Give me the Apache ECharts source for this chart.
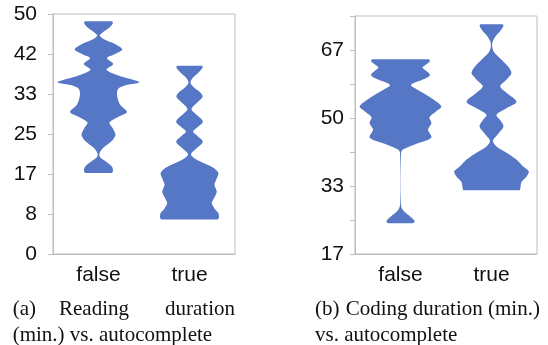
<!DOCTYPE html>
<html>
<head>
<meta charset="utf-8">
<script src="https://cdn.jsdelivr.net/npm/echarts@6/dist/echarts.min.js"></script>
<style>
  html, body { margin: 0; padding: 0; background: #fff; }
  #chart { width: 548px; height: 345px; }
</style>
</head>
<body>
<div id="chart"></div>
<script>
// Categories: whether autocomplete was enabled
const categories = ['false', 'true'];

// (a) Reading duration in minutes: outline profile of each violin
// (duration value, relative density at that value)
const readingFalseMinutes = [48.5, 48.0, 47.2, 46.3, 45.5, 44.8, 43.8, 42.6, 41.6, 40.8, 39.6, 38.4, 37.2, 35.8, 35.2, 34.5, 33.5, 32.2, 31.0, 29.6, 28.6, 27.4, 26.3, 24.8, 23.5, 22.2, 21.0, 20.2, 19.3, 18.2, 17.3, 16.9];
const readingFalseDensity = [13.5, 14.3, 11, 5, 1.2, 5, 16, 23.8, 16, 8.5, 14.7, 8, 20, 41, 28, 20, 18.5, 19.5, 22, 28.5, 20, 11, 14, 17, 13, 5, 1, 1.5, 7, 13.5, 14.5, 13];
const readingTrueMinutes = [39.2, 38.8, 37.8, 36.6, 35.7, 34.8, 33.8, 32.8, 31.6, 30.2, 29.2, 27.6, 26.4, 25.5, 24.6, 23.4, 22.2, 20.8, 19.8, 18.6, 17.8, 16.8, 15.6, 14.4, 13.0, 11.8, 10.6, 9.5, 8.5, 7.6, 7.2];
const readingTrueDensity = [12.5, 13, 9, 3, 1, 4, 10, 13.2, 8, 2, 6, 13.3, 8, 3.5, 8, 13.3, 8, 1.5, 6, 18, 25, 29, 27, 25, 27.3, 25, 22.3, 25, 29, 29.5, 28];

// (b) Coding duration in minutes
const codingFalseMinutes = [64.4, 64.0, 63.2, 62.4, 61.5, 60.5, 59.5, 58.1, 56.8, 55.0, 52.8, 51.5, 50.2, 48.7, 47.1, 45.3, 44.4, 43.4, 42.2, 41.3, 29.0, 27.6, 26.2, 25.0, 24.5, 24.2];
const codingFalseDensity = [28, 29.5, 26, 22, 26, 29.5, 23, 10.5, 18, 30, 41, 35, 29, 31, 27.5, 31, 25, 13, 2, 0.5, 0.4, 2, 8, 13.5, 14, 12];
const codingTrueMinutes = [73.0, 72.6, 71.4, 70.0, 68.6, 67.3, 66.0, 64.3, 62.5, 61.0, 59.4, 57.8, 56.2, 54.0, 52.4, 50.8, 49.4, 47.9, 46.2, 44.4, 43.0, 41.5, 39.8, 38.3, 36.8, 35.6, 34.3, 33.0, 32.3];
const codingTrueDensity = [11, 12, 9, 4, 1, 0.8, 3, 10, 17, 20, 15, 8.7, 15, 25, 15, 5, 9, 12, 7, 1.5, 5, 15, 25, 31, 37.5, 35, 30, 29, 28];

// Axis ticks (minutes)
const readingTicks = { min: 0, max: 50, step: 25 / 3 };
const codingTicks = { min: 50 / 3, max: 75, step: 25 / 3 };

const violinColor = '#5677c5';
const frameColor = '#bdbdbd';

const readingProfiles = [
  { minutes: readingFalseMinutes, density: readingFalseDensity },
  { minutes: readingTrueMinutes, density: readingTrueDensity }
];
const codingProfiles = [
  { minutes: codingFalseMinutes, density: codingFalseDensity },
  { minutes: codingTrueMinutes, density: codingTrueDensity }
];

function maxOf(profiles, key) {
  return Math.max.apply(null, profiles.map(p => Math.max.apply(null, p[key])));
}

// Builds a mirrored outline for each category from its density profile
function violinRenderer(profiles) {
  const peak = maxOf(profiles, 'density');
  return function (params, api) {
    const cat = params.dataIndex;
    const prof = profiles[cat];
    const y0 = prof.minutes[0];
    const band = api.coord([1, y0])[0] - api.coord([0, y0])[0];
    const scale = band * 0.45 / peak;
    const right = [], left = [];
    let minX = Infinity, minY = Infinity, maxX = -Infinity, maxY = -Infinity;
    for (let i = 0; i < prof.minutes.length; i++) {
      const p = api.coord([cat, prof.minutes[i]]);
      const w = prof.density[i] * scale;
      right.push([p[0] + w, p[1]]);
      left.push([p[0] - w, p[1]]);
      minX = Math.min(minX, p[0] - w); maxX = Math.max(maxX, p[0] + w);
      minY = Math.min(minY, p[1]); maxY = Math.max(maxY, p[1]);
    }
    return {
      type: 'polygon',
      shape: {
        points: right.concat(left.reverse()),
        smooth: 0.3,
        smoothConstraint: [[minX, minY], [maxX, maxY]]
      },
      style: { fill: violinColor }
    };
  };
}

function violinData(profiles) {
  return profiles.map((p, i) => [i, Math.max.apply(null, p.minutes)]);
}

const axisFont = { fontFamily: 'Liberation Sans', fontSize: 21, color: '#111' };

function valueAxis(gridIndex, ticks, margin, everyOther) {
  return {
    type: 'value',
    gridIndex: gridIndex,
    min: ticks.min,
    max: ticks.max,
    interval: ticks.step,
    axisLine: { show: true, lineStyle: { color: frameColor } },
    axisTick: { show: true, length: 5, lineStyle: { color: frameColor } },
    splitLine: { show: false },
    axisLabel: Object.assign({
      margin: margin,
      showMaxLabel: true,
      showMinLabel: true,
      formatter: function (v) {
        const k = Math.round(v / ticks.step);
        if (everyOther && k % 2 !== 0) return '';
        return String(Math.round(v));
      }
    }, axisFont)
  };
}

function categoryAxis(gridIndex) {
  return {
    type: 'category',
    gridIndex: gridIndex,
    data: categories,
    axisLine: { show: true, lineStyle: { color: frameColor } },
    axisTick: { show: false },
    axisLabel: Object.assign({ margin: 11 }, axisFont)
  };
}

const captionFont = 'Liberation Serif';
function caption(text, x, y, align) {
  return {
    type: 'text',
    x: x,
    y: y,
    style: {
      text: text,
      fontFamily: captionFont,
      fontSize: 21,
      fill: '#111',
      align: align || 'left',
      verticalAlign: 'middle'
    }
  };
}

const chart = echarts.init(document.getElementById('chart'), null, { renderer: 'canvas' });
chart.setOption({
  animation: false,
  backgroundColor: '#fff',
  grid: [
    { left: 53, right: 313, top: 14, bottom: 91, show: true, borderColor: frameColor, borderWidth: 1 },
    { left: 355, right: 11, top: 16, bottom: 91, show: true, borderColor: frameColor, borderWidth: 1 }
  ],
  xAxis: [categoryAxis(0), categoryAxis(1)],
  yAxis: [
    valueAxis(0, readingTicks, 16, false),
    valueAxis(1, codingTicks, 11, true)
  ],
  series: [
    {
      type: 'custom',
      xAxisIndex: 0,
      yAxisIndex: 0,
      renderItem: violinRenderer(readingProfiles),
      data: violinData(readingProfiles)
    },
    {
      type: 'custom',
      xAxisIndex: 1,
      yAxisIndex: 1,
      renderItem: violinRenderer(codingProfiles),
      data: violinData(codingProfiles)
    }
  ],
  graphic: [
    caption('(a)', 12.7, 309.5),
    caption('Reading', 59, 309.5),
    caption('duration', 235, 309.5, 'right'),
    caption('(min.) vs. autocomplete', 12.7, 335),
    caption('(b)', 315, 309.5),
    caption('Coding duration (min.)', 345.7, 309.5),
    caption('vs. autocomplete', 315, 335)
  ]
});
</script>
</body>
</html>
